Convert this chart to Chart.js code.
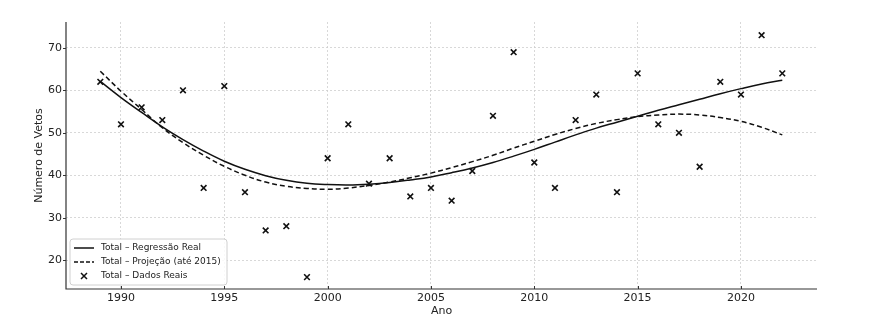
<!DOCTYPE html>
<html>
<head>
<meta charset="utf-8">
<script src="https://cdn.jsdelivr.net/npm/chart.js@4.4.1/dist/chart.umd.min.js"></script>
<style>
html, body { margin: 0; padding: 0; background: #fff; }
#wrap { width: 871px; height: 325px; }
</style>
</head>
<body>
<div id="wrap"><canvas id="myChart" width="871" height="325"></canvas></div>
<script>
// dados
const anos = [1989,1990,1991,1992,1993,1994,1995,1996,1997,1998,1999,2000,2001,2002,2003,2004,2005,
  2006,2007,2008,2009,2010,2011,2012,2013,2014,2015,2016,2017,2018,2019,2020,2021,2022];

const vetos = [62,52,56,53,60,37,61,36,27,28,16,44,52,38,44,35,37,
  34,41,54,69,43,37,53,59,36,64,52,50,42,62,59,73,64];

const regressaoReal = [62.1,58.3,54.8,51.4,48.4,45.7,43.3,41.4,39.9,38.8,38.1,37.8,37.7,37.9,38.3,38.9,39.6,
  40.6,41.7,43.0,44.5,46.1,47.8,49.5,51.1,52.5,53.9,55.3,56.6,57.9,59.2,60.4,61.5,62.4];

const projecao = [64.5,59.8,55.5,51.2,47.7,44.7,42.1,40.0,38.4,37.4,36.9,36.7,37.0,37.6,38.4,39.4,40.5,
  41.8,43.2,44.7,46.4,48.0,49.6,51.0,52.2,53.1,53.8,54.2,54.4,54.2,53.6,52.7,51.3,49.5];

const xTicks = [1990,1995,2000,2005,2010,2015,2020];
const yTicks = [20,30,40,50,60,70];

const legendLabels = ['Total – Regressão Real', 'Total – Projeção (até 2015)', 'Total – Dados Reais'];

const FONT = '"DejaVu Sans", sans-serif';

function pares(ys) {
  return anos.map((a, i) => ({x: a, y: ys[i]}));
}

// eixos (esquerda e baixo) desenhados à mão, pois a grade é pontilhada
const eixos = {
  id: 'eixos',
  afterDatasetsDraw(chart) {
    const c = chart.ctx, a = chart.chartArea;
    const xs = chart.scales.x, ys = chart.scales.y;
    c.save();
    c.setLineDash([]);
    c.strokeStyle = '#333';
    c.lineWidth = 1.2;
    c.beginPath();
    c.moveTo(a.left, a.top);
    c.lineTo(a.left, a.bottom);
    c.lineTo(a.right, a.bottom);
    c.stroke();
    c.lineWidth = 1;
    c.beginPath();
    for (const v of xTicks) {
      const px = Math.round(xs.getPixelForValue(v)) + 0.5;
      c.moveTo(px, a.bottom);
      c.lineTo(px, a.bottom - 3);
    }
    for (const v of yTicks) {
      const py = Math.round(ys.getPixelForValue(v)) + 0.5;
      c.moveTo(a.left, py);
      c.lineTo(a.left - 3, py);
    }
    c.stroke();
    c.restore();
  }
};

// legenda desenhada dentro da área do gráfico (canto inferior esquerdo)
const legendaDentro = {
  id: 'legendaDentro',
  afterDraw(chart) {
    const ctx = chart.ctx;
    const a = chart.chartArea;
    const x = a.left + 4, y = a.bottom - 50, w = 157, h = 46;
    ctx.save();
    ctx.beginPath();
    ctx.roundRect(x, y, w, h, 3);
    ctx.fillStyle = 'rgba(255,255,255,0.85)';
    ctx.fill();
    ctx.strokeStyle = '#d0d0d0';
    ctx.lineWidth = 1;
    ctx.stroke();

    ctx.font = '9px ' + FONT;
    ctx.textBaseline = 'middle';
    for (let i = 0; i < legendLabels.length; i++) {
      const yy = y + 9 + i * 14;
      ctx.strokeStyle = '#111';
      ctx.lineWidth = 1.5;
      if (i < 2) {
        ctx.setLineDash(i === 1 ? [4, 2] : []);
        ctx.beginPath();
        ctx.moveTo(x + 4, yy);
        ctx.lineTo(x + 24, yy);
        ctx.stroke();
        ctx.setLineDash([]);
      } else {
        const cx = x + 14, s = 3;
        ctx.beginPath();
        ctx.moveTo(cx - s, yy - s); ctx.lineTo(cx + s, yy + s);
        ctx.moveTo(cx + s, yy - s); ctx.lineTo(cx - s, yy + s);
        ctx.stroke();
      }
      ctx.fillStyle = '#222';
      ctx.fillText(legendLabels[i], x + 31, yy);
    }
    ctx.restore();
  }
};

const ctx = document.getElementById('myChart');

const myChart = new Chart(ctx, {
  type: 'scatter',
  data: {
    datasets: [
      {
        label: legendLabels[0],
        data: pares(regressaoReal),
        showLine: true,
        borderColor: '#111',
        borderWidth: 1.5,
        pointRadius: 0,
        tension: 0.4,
        fill: false
      },
      {
        label: legendLabels[1],
        data: pares(projecao),
        showLine: true,
        borderColor: '#111',
        borderWidth: 1.5,
        borderDash: [5, 3],
        pointRadius: 0,
        tension: 0.4,
        fill: false
      },
      {
        label: legendLabels[2],
        data: pares(vetos),
        pointStyle: 'crossRot',
        pointRadius: 4,
        borderColor: '#111',
        borderWidth: 1.6,
        showLine: false
      }
    ]
  },
  options: {
    responsive: false,
    animation: false,
    devicePixelRatio: 1,
    layout: { padding: { top: 22, right: 54, left: 0, bottom: 0 } },
    plugins: {
      legend: { display: false },
      tooltip: { enabled: false }
    },
    scales: {
      x: {
        type: 'linear',
        min: 1987.34,
        max: 2023.68,
        afterBuildTicks: (scale) => { scale.ticks = xTicks.map(v => ({value: v})); },
        afterFit: (scale) => { scale.height = 36; },
        grid: {
          color: '#cfcfcf',
          lineWidth: 0.8,
          drawTicks: false
        },
        border: { display: false, dash: [2, 2] },
        ticks: {
          padding: 3,
          color: '#222',
          font: { family: FONT, size: 11 },
          callback: (v) => String(v)
        },
        title: {
          display: true,
          text: 'Ano',
          color: '#222',
          font: { family: FONT, size: 11 },
          padding: { top: 0, bottom: 7.4 }
        }
      },
      y: {
        type: 'linear',
        min: 13.2,
        max: 76.1,
        afterBuildTicks: (scale) => { scale.ticks = yTicks.map(v => ({value: v})); },
        afterFit: (scale) => { scale.width = 66; },
        grid: {
          color: '#cfcfcf',
          lineWidth: 0.8,
          drawTicks: false
        },
        border: { display: false, dash: [2, 2] },
        ticks: {
          padding: 4,
          color: '#222',
          font: { family: FONT, size: 11 },
          callback: (v) => String(v)
        },
        title: {
          display: true,
          text: 'Número de Vetos',
          color: '#222',
          font: { family: FONT, size: 11 },
          padding: { top: 32.4, bottom: 0 }
        }
      }
    }
  },
  plugins: [eixos, legendaDentro]
});
</script>
</body>
</html>
